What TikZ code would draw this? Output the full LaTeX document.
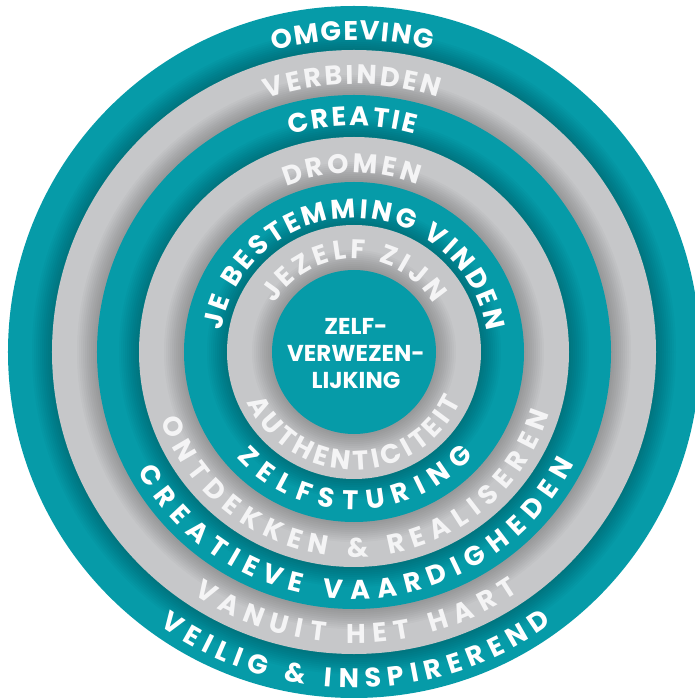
\documentclass[tikz,border=0pt]{standalone}
\usepackage{fontspec}
\newfontfamily\ringfont{Poppins}
\usetikzlibrary{decorations.text}
\definecolor{ringteal}{RGB}{6,155,168}
\definecolor{ringgray}{RGB}{198,199,201}
\definecolor{graytext}{RGB}{244,244,245}
\newcommand\ringsize{\ringfont\bfseries\fontsize{27}{27}\selectfont}

\begin{document}
\begin{tikzpicture}[x=1pt,y=1pt,
tealdisc/.style ={fill=ringteal},
graydisc/.style ={fill=ringgray},
ringlabel/.style ={decorate,
  decoration={text along path, text align=fit to path, text color=white}
},
graylabel/.style ={decorate,
  decoration={text along path, text align=fit to path, text color=graytext}
}]
\useasboundingbox (-354,-346) rectangle (340,352);

% stacked discs, each one throwing a soft shadow on the one below
\fill[tealdisc] (0,0) circle (346);
\foreach \r/\kind in {302/graydisc, 257/tealdisc, 215/graydisc,
                      170/tealdisc, 127/graydisc, 82/tealdisc} {
  \foreach \d in {1,...,10}
    \fill[black, opacity=0.022] (0,0) circle (\r+2*\d);
  \fill[\kind] (0,0) circle (\r);
}

% upper half, read clockwise
\path[ringlabel] (104.9:312) arc[start angle=104.9, end angle=75.6, radius=312]
  [decoration={text={|\ringsize|OMGEVING}}];
\path[graylabel] (109:268) arc[start angle=109, end angle=71.8, radius=268]
  [decoration={text={|\ringsize|VERBINDEN}}];
\path[ringlabel] (106.4:226) arc[start angle=106.4, end angle=74.3, radius=226]
  [decoration={text={|\ringsize|CREATIE}}];
\path[graylabel] (112.2:179) arc[start angle=112.2, end angle=69.3, radius=179]
  [decoration={text={|\ringsize|DROMEN}}];
\path[ringlabel] (171:134) arc[start angle=171, end angle=9, radius=134]
  [decoration={text={|\ringsize|JE BESTEMMING VINDEN}}];
\path[graylabel] (149:93) arc[start angle=149, end angle=31, radius=93]
  [decoration={text={|\ringsize|JEZELF ZIJN}}];

% lower half, read anticlockwise
\path[graylabel] (205:118) arc[start angle=205, end angle=335, radius=118]
  [decoration={text={|\ringsize|AUTHENTICITEIT}}];
\path[ringlabel] (222:158) arc[start angle=222, end angle=319, radius=158]
  [decoration={text={|\ringsize|ZELFSTURING}}];
\path[graylabel] (199.5:205) arc[start angle=199.5, end angle=342.7, radius=205]
  [decoration={text={|\ringsize|ONTDEKKEN {\&} REALISEREN}}];
\path[ringlabel] (208.9:247) arc[start angle=208.9, end angle=333, radius=247]
  [decoration={text={|\ringsize|CREATIEVE VAARDIGHEDEN}}];
\path[graylabel] (236.5:291) arc[start angle=236.5, end angle=304.4, radius=291]
  [decoration={text={|\ringsize|VANUIT HET HART}}];
\path[ringlabel] (234.6:336) arc[start angle=234.6, end angle=306, radius=336]
  [decoration={text={|\ringsize|VEILIG {\&} INSPIREREND}}];

\node (core) at (2,-2) [align=center, text=white, inner sep=0pt,
  font=\ringfont\bfseries\fontsize{23}{27}\selectfont] {ZELF-\\VERWEZEN-\\LIJKING};

\end{tikzpicture}
\end{document}
